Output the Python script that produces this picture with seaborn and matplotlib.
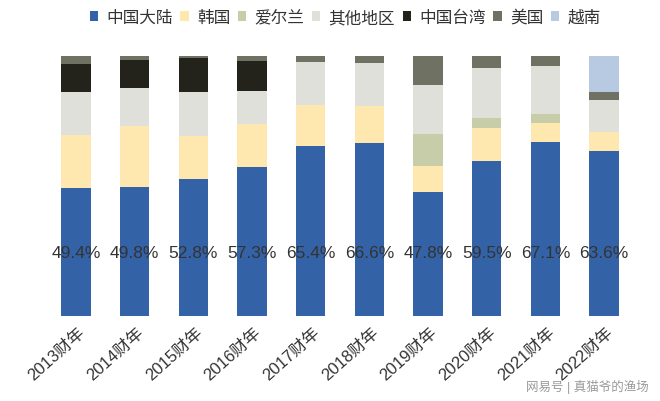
import numpy as np
import pandas as pd
import matplotlib
matplotlib.use("Agg")
import matplotlib.pyplot as plt
from matplotlib.patches import Patch
from matplotlib.transforms import ScaledTranslation
import seaborn as sns

years = ['2013财年', '2014财年', '2015财年', '2016财年', '2017财年',
         '2018财年', '2019财年', '2020财年', '2021财年', '2022财年']
regions = ['中国大陆', '韩国', '爱尔兰', '其他地区', '中国台湾', '美国', '越南']

mainland = [49.4, 49.8, 52.8, 57.3, 65.4, 66.6, 47.8, 59.5, 67.1, 63.6]
korea = [20.2, 23.2, 16.3, 16.7, 15.8, 14.0, 10.0, 12.7, 7.1, 7.1]
ireland = [0, 0, 0, 0, 0, 0, 12.2, 3.8, 3.5, 0]
other = [16.4, 14.7, 16.9, 12.4, 16.4, 16.6, 18.8, 19.4, 18.3, 12.5]
taiwan = [10.9, 10.9, 13.1, 11.8, 0, 0, 0, 0, 0, 0]
usa = [3.1, 1.4, 0.9, 1.8, 2.4, 2.8, 11.2, 4.6, 4.0, 3.1]
vietnam = [0, 0, 0, 0, 0, 0, 0, 0, 0, 13.7]

colors = ['#3462a6', '#fee8b0', '#c7cca9', '#e0e0da', '#23231c', '#6f7262', '#b8c9e2']

plt.rcParams['font.family'] = ['Liberation Sans', 'Noto Sans CJK SC', 'DejaVu Sans']

df = pd.DataFrame({'year': years, '中国大陆': mainland, '韩国': korea, '爱尔兰': ireland,
                   '其他地区': other, '中国台湾': taiwan, '美国': usa, '越南': vietnam})

fig = plt.figure(figsize=(6.6, 4.02), dpi=100)
ax = fig.add_axes([0.0707, 0.2114, 0.889, 0.6468])

bottom = np.zeros(len(years))
for reg, c in zip(regions, colors):
    sns.barplot(data=df, x='year', y=reg, color=c, width=0.5, bottom=bottom,
                saturation=1, linewidth=0, ax=ax)
    bottom = bottom + df[reg].values

for i, v in enumerate(mainland):
    ax.text(i, 24.3, f'{v}%', ha='center', va='center', fontsize=12.5, color='#333333')

ax.set_xlim(-0.5, len(years) - 0.5)
ax.set_ylim(0, 100)
ax.set_yticks([])
ax.set_xlabel('')
ax.set_ylabel('')
for s in ax.spines.values():
    s.set_visible(False)
ax.tick_params(axis='x', length=0, pad=10, labelsize=12, labelcolor='#333333')
shift = ScaledTranslation(7 / 100, 0, fig.dpi_scale_trans)
for lab in ax.get_xticklabels():
    lab.set_rotation(42)
    lab.set_ha('right')
    lab.set_va('center')
    lab.set_rotation_mode('anchor')
    lab.set_transform(lab.get_transform() + shift)

handles = [Patch(facecolor=c, label=r) for r, c in zip(regions, colors)]
fig.legend(handles=handles, loc='center', bbox_to_anchor=(0.523, 0.955), ncol=7,
           frameon=False, fontsize=12, handlelength=0.5, handleheight=0.6,
           handletextpad=0.5, columnspacing=0.45, labelcolor='#333333')

fig.text(0.983, 0.037, '网易号 | 真猫爷的渔场', ha='right', va='center', fontsize=9,
         color='#999999')

fig.savefig('out.png', dpi=100)
